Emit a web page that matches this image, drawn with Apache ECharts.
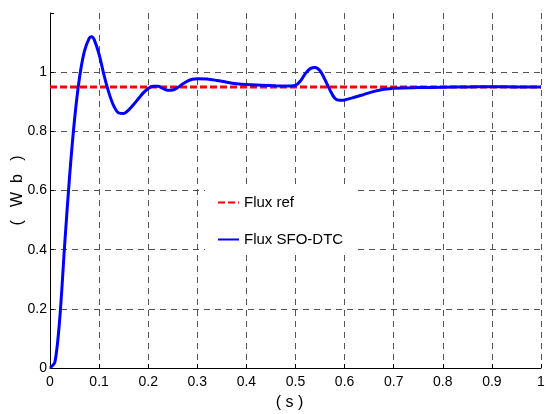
<!DOCTYPE html>
<html>
<head>
<meta charset="utf-8">
<script src="https://cdn.jsdelivr.net/npm/echarts@6/dist/echarts.min.js"></script>
<style>html,body{margin:0;padding:0;background:#fff;}#c{width:546px;height:414px;}</style>
</head>
<body>
<div id="c"></div>
<script>
// Time (s)
var fluxTime = [0,0.01,0.02,0.03,0.04,0.05,0.06,0.07,0.08,0.085,0.09,0.10,0.11,0.12,0.13,0.14,0.15,0.16,0.17,0.18,0.19,0.20,0.21,0.22,0.23,0.24,0.25,0.26,0.27,0.28,0.29,0.30,0.32,0.34,0.36,0.38,0.40,0.43,0.46,0.49,0.50,0.51,0.52,0.53,0.54,0.55,0.56,0.57,0.58,0.59,0.60,0.62,0.64,0.66,0.68,0.70,0.75,0.80,0.85,0.90,0.95,1.0];
// Flux SFO-DTC (Wb)
var fluxSfo = [0,0.02,0.17,0.42,0.65,0.84,0.98,1.07,1.115,1.12,1.11,1.06,0.99,0.93,0.885,0.862,0.86,0.872,0.89,0.91,0.93,0.945,0.952,0.952,0.945,0.939,0.940,0.948,0.96,0.97,0.976,0.978,0.977,0.972,0.966,0.961,0.958,0.956,0.954,0.953,0.955,0.97,0.995,1.012,1.016,1.005,0.975,0.94,0.912,0.905,0.906,0.915,0.925,0.935,0.942,0.946,0.948,0.949,0.95,0.951,0.95,0.95];
// Flux reference
var refTime = [0, 1];
var fluxRef = [0.95, 0.95];
var seriesNames = ['Flux ref', 'Flux SFO-DTC'];
var xTicks = {min: 0, max: 1, interval: 0.1};
var yTicks = {min: 0, max: 1.2, interval: 0.2};

function zip(a, b) { return a.map(function (v, i) { return [v, b[i]]; }); }

var tickFont = 'Liberation Sans Narrow, Arial Narrow, Liberation Sans, Arial, sans-serif';

var chart = echarts.init(document.getElementById('c'), null, {renderer: 'canvas'});
chart.setOption({
  animation: false,
  backgroundColor: '#fff',
  grid: {left: 50, right: 5, top: 13, bottom: 46, containLabel: false, outerBoundsMode: 'none'},
  legend: {
    orient: 'vertical', left: 205, top: 187, padding: [8, 12, 8, 12],
    backgroundColor: '#fff', itemWidth: 21, itemHeight: 14, itemGap: 22, itemStyle: {opacity: 0},
    textStyle: {fontFamily: tickFont, fontSize: 15, color: '#000'},
    data: seriesNames
  },
  xAxis: {
    type: 'value', min: xTicks.min, max: xTicks.max, interval: xTicks.interval,
    name: '( s )', nameLocation: 'middle', nameGap: 27, nameMoveOverlap: false,
    nameTextStyle: {fontFamily: tickFont, fontSize: 16, color: '#000', padding: [0, 12, 0, 0]},
    axisLine: {show: true, lineStyle: {color: '#000', width: 1}},
    axisTick: {show: true, inside: true, length: 4, lineStyle: {color: '#000'}},
    axisLabel: {fontFamily: tickFont, fontSize: 14, color: '#000', margin: 7, showMaxLabel: true},
    splitLine: {show: true, showMaxLine: true, showMinLine: false, lineStyle: {color: '#555', width: 1, type: [6, 5]}}
  },
  yAxis: {
    type: 'value', min: yTicks.min, max: yTicks.max, interval: yTicks.interval,
    name: '(   W  b   )', nameLocation: 'middle', nameGap: 24, nameRotate: 90, nameMoveOverlap: false,
    nameTextStyle: {fontFamily: tickFont, fontSize: 16, color: '#000'},
    axisLine: {show: true, lineStyle: {color: '#000', width: 1}},
    axisTick: {show: true, inside: true, length: 4, lineStyle: {color: '#000'}},
    axisLabel: {fontFamily: tickFont, fontSize: 14, color: '#000', margin: 3,
      formatter: function (v) { return v > 1.1 ? '' : String(Math.round(v * 10) / 10); }},
    splitLine: {show: true, showMaxLine: false, showMinLine: false, lineStyle: {color: '#555', width: 1, type: [6, 5]}}
  },
  series: [
    {
      name: seriesNames[0], type: 'line', data: zip(refTime, fluxRef), showSymbol: false, symbol: 'none',
      lineStyle: {color: '#ff0000', width: 3, type: [7, 3]}, itemStyle: {color: '#ff0000'}, z: 3
    },
    {
      name: seriesNames[1], type: 'line', data: zip(fluxTime, fluxSfo), showSymbol: false, symbol: 'none',
      smooth: 0.3, lineStyle: {color: '#0000ff', width: 3}, itemStyle: {color: '#0000ff'}, z: 4
    }
  ]
});
</script>
</body>
</html>
